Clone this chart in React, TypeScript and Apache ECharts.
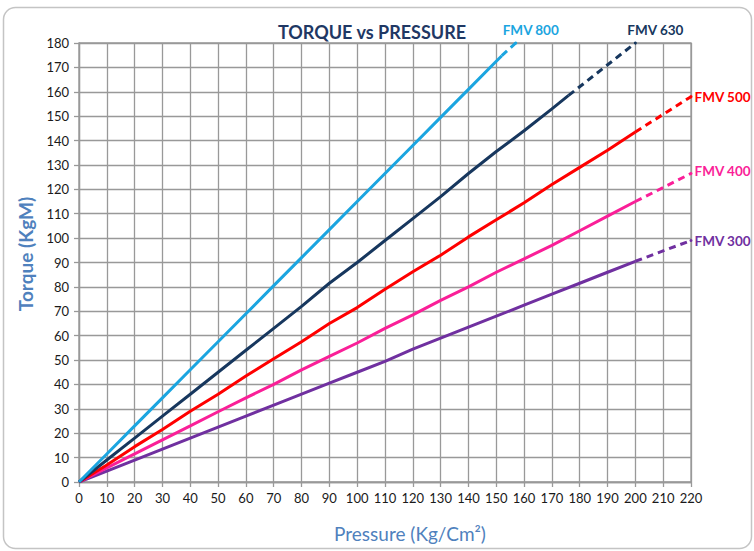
import React, { useEffect, useRef } from "react";
import * as echarts from "echarts";

const xTicks = [0, 220, 10];
const yTicks = [0, 180, 10];

const fmv800Solid = [[0,0],[10,11.5],[20,23],[30,34.5],[40,46],[50,57.5],[60,69],[70,80.5],[80,92],[90,103.5],[100,115],[110,126.5],[120,138],[130,149.5],[140,161],[150,172.5],[152,174.8]];
const fmv800Dashed = [[152,174.8],[157,180]];

const fmv630Solid = [[0,0],[10,9],[20,18],[30,27],[40,36],[50,45],[60,54],[70,63],[80,72],[90,81.5],[100,90],[110,99],[120,108],[130,117],[140,126.5],[150,135.5],[160,144],[170,153],[176,158.5]];
const fmv630Dashed = [[176,158.5],[200,180]];

const fmv500Solid = [[0,0],[10,7],[20,14.5],[30,21.5],[40,29],[50,36],[60,43.5],[70,50.5],[80,57.5],[90,65],[100,71.5],[110,79],[120,86.2],[130,93],[140,100.5],[150,107.5],[160,114.5],[170,122],[180,129],[190,136],[200,143.5]];
const fmv500Dashed = [[200,143.5],[220,158]];

const fmv400Solid = [[0,0],[10,5.8],[20,11.5],[30,17.3],[40,23],[50,28.8],[60,34.5],[70,40],[80,46],[90,51.5],[100,57],[110,63],[120,68.5],[130,74.5],[140,80],[150,86],[160,91.5],[170,97],[180,103],[190,109],[200,115]];
const fmv400Dashed = [[200,115],[220,126.5]];

const fmv300Solid = [[0,0],[10,4.5],[20,9],[30,13.5],[40,18],[50,22.5],[60,27],[70,31.5],[80,36],[90,40.5],[100,45],[110,49.5],[120,54.5],[130,59],[140,63.5],[150,68],[160,72.5],[170,77],[180,81.5],[190,86],[200,90.5]];
const fmv300Dashed = [[200,90.5],[220,99]];

const seriesNames = ["FMV 800", "FMV 630", "FMV 500", "FMV 400", "FMV 300"];
const seriesColors = ["#1BA5E0", "#17375E", "#FF0000", "#FA1F98", "#7030A0"];

const FONT = "Lato, 'Open Sans', sans-serif";

export default function App() {
  const ref = useRef<HTMLDivElement>(null);
  useEffect(() => {
    if (!ref.current) return;
    const chart = echarts.init(ref.current, undefined, { renderer: "svg" });
    const solids = [fmv800Solid, fmv630Solid, fmv500Solid, fmv400Solid, fmv300Solid];
    const dashes = [fmv800Dashed, fmv630Dashed, fmv500Dashed, fmv400Dashed, fmv300Dashed];
    const labelCfg: any[] = [
      { position: "top", distance: 5, offset: [15, 0] },
      { position: "top", distance: 5, offset: [20, 0] },
      { position: "right", distance: 2, offset: [0, 0] },
      { position: "right", distance: 2, offset: [0, -2] },
      { position: "right", distance: 2, offset: [0, 0] },
    ];
    const series: any[] = [];
    for (let i = 4; i >= 0; i--) {
      series.push({
        type: "line",
        name: seriesNames[i] + " solid",
        data: solids[i],
        showSymbol: false,
        symbol: "none",
        lineStyle: { color: seriesColors[i], width: 3 },
        z: 3,
      });
      const d = dashes[i];
      series.push({
        type: "line",
        name: seriesNames[i],
        data: [
          { value: d[0], symbolSize: 0 },
          {
            value: d[1],
            symbolSize: 3,
            label: {
              show: true,
              formatter: seriesNames[i],
              color: seriesColors[i],
              fontFamily: FONT,
              fontWeight: "bold",
              fontSize: 13.5,
              ...labelCfg[i],
            },
          },
        ],
        symbol: "circle",
        showSymbol: true,
        itemStyle: { color: seriesColors[i] },
        lineStyle: { color: seriesColors[i], width: 3, type: [7, 5] },
        z: 3,
      });
    }
    chart.setOption({
      animation: false,
      backgroundColor: "#ffffff",
      title: {
        text: "TORQUE vs PRESSURE",
        left: 367,
        top: 27,
        textAlign: "center",
        textVerticalAlign: "middle",
        textStyle: { color: "#1F3864", fontFamily: FONT, fontWeight: "bold", fontSize: 18 },
      },
      grid: {
        left: 79,
        right: 63,
        top: 43,
        bottom: 69,
        show: true,
        borderColor: "#999999",
        borderWidth: 1.3,
      },
      xAxis: {
        type: "value",
        min: xTicks[0],
        max: xTicks[1],
        interval: xTicks[2],
        axisLine: { show: true, lineStyle: { color: "#999999", width: 1.3 } },
        axisTick: { show: true, length: 5, lineStyle: { color: "#999999", width: 1.3 } },
        splitLine: { show: true, lineStyle: { color: "#999999", width: 1.3 } },
        axisLabel: { color: "#1a1a1a", fontFamily: FONT, fontSize: 13, margin: 9 },
      },
      yAxis: {
        type: "value",
        min: yTicks[0],
        max: yTicks[1],
        interval: yTicks[2],
        axisLine: { show: true, lineStyle: { color: "#999999", width: 1.3 } },
        axisTick: { show: true, length: 5, lineStyle: { color: "#999999", width: 1.3 } },
        splitLine: { show: true, lineStyle: { color: "#999999", width: 1.3 } },
        axisLabel: { color: "#1a1a1a", fontFamily: FONT, fontSize: 13, margin: 10 },
      },
      graphic: [
        {
          type: "rect",
          z: -10,
          shape: { x: 3.5, y: 7.5, width: 748, height: 541, r: 12 },
          style: { fill: "none", stroke: "#c4c4c4", lineWidth: 1.5 },
        },
        {
          type: "text",
          x: 410,
          y: 533,
          style: {
            text: "Pressure (Kg/Cm²)",
            fill: "#4F81BD",
            font: "19px " + FONT,
            align: "center",
            verticalAlign: "middle",
          },
        },
        {
          type: "text",
          x: 25,
          y: 254,
          rotation: Math.PI / 2,
          style: {
            text: "Torque (KgM)",
            fill: "#4F81BD",
            font: "bold 19px " + FONT,
            align: "center",
            verticalAlign: "middle",
          },
        },
      ],
      series,
    });
    return () => chart.dispose();
  }, []);
  return (
    <div
      ref={ref}
      style={{ position: "fixed", left: 0, top: 0, width: 754, height: 551 }}
    />
  );
}
